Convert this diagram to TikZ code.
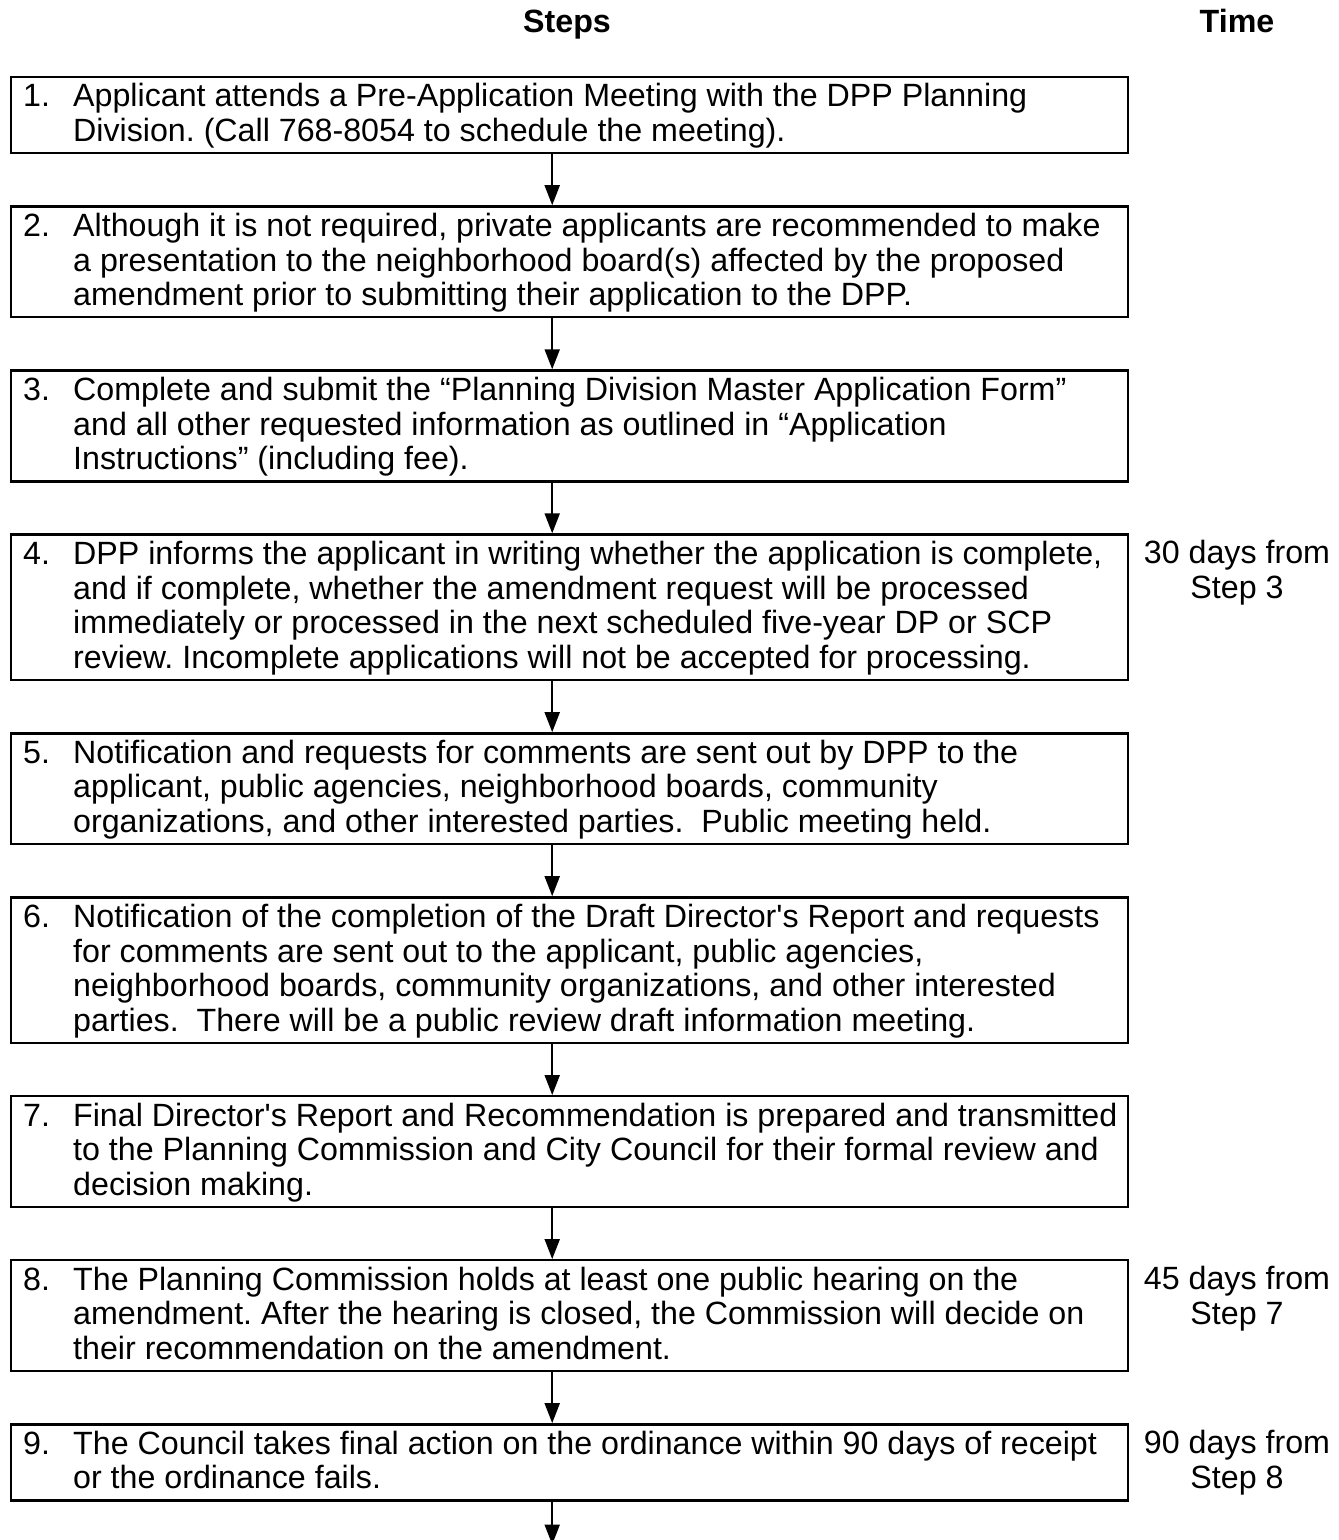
\documentclass[tikz,border=0pt]{standalone}
\usepackage{fontspec}
\setmainfont{Liberation Sans}[Ligatures=TeXOff]
\usepackage{tikz}
\usetikzlibrary{arrows.meta, positioning}
\frenchspacing
\newcommand{\steptext}[2]{\makebox[546.5pt][l]{\makebox[25pt][l]{#1.}\begin{tabular}[t]{@{}l@{}}\rule{0pt}{14.4pt}#2\end{tabular}}}
\newcommand{\timetext}[1]{\begin{tabular}[t]{@{}c@{}}\rule{0pt}{14.4pt}#1\end{tabular}}
\begin{document}
\begin{tikzpicture}[
    node distance=25.4pt,
    font=\fontsize{16.1}{17.4}\selectfont,
    box/.style={draw, line width=1.2pt, inner xsep=6pt, inner ysep=0.5pt, anchor=north},
    timelbl/.style={inner sep=0pt, inner ysep=0.5pt, anchor=north},
    head/.style={font=\fontsize{16.1}{17.4}\selectfont\bfseries, anchor=base},
    arr/.style={-{Triangle[width=7.5pt,length=10pt]}, line width=1pt}
  ]
  \useasboundingbox (0,0) rectangle (669pt,-770pt);
  \node[head] (steps) at (283.5pt,-16.5pt) {Steps};
  \node[head] (time) at (618.5pt,-16.5pt) {Time};
  \node[box, anchor=north west] (s1) at (5pt,-38pt) {\steptext{1}{Applicant attends a Pre-Application Meeting with the DPP Planning\\Division. (Call 768-8054 to schedule the meeting).}};
  \node[box, below=of s1] (s2) {\steptext{2}{Although it is not required, private applicants are recommended to make\\a presentation to the neighborhood board(s) affected by the proposed\\amendment prior to submitting their application to the DPP.}};
  \node[box, below=of s2] (s3) {\steptext{3}{Complete and submit the “Planning Division Master Application Form”\\and all other requested information as outlined in “Application\\Instructions” (including fee).}};
  \node[box, below=of s3] (s4) {\steptext{4}{DPP informs the applicant in writing whether the application is complete,\\and if complete, whether the amendment request will be processed\\immediately or processed in the next scheduled five-year DP or SCP\\review. Incomplete applications will not be accepted for processing.}};
  \node[box, below=of s4] (s5) {\steptext{5}{Notification and requests for comments are sent out by DPP to the\\applicant, public agencies, neighborhood boards, community\\organizations, and other interested parties.\ \ Public meeting held.}};
  \node[box, below=of s5] (s6) {\steptext{6}{Notification of the completion of the Draft Director's Report and requests\\for comments are sent out to the applicant, public agencies,\\neighborhood boards, community organizations, and other interested\\parties.\ \ There will be a public review draft information meeting.}};
  \node[box, below=of s6] (s7) {\steptext{7}{Final Director's Report and Recommendation is prepared and transmitted\\to the Planning Commission and City Council for their formal review and\\decision making.}};
  \node[box, below=of s7] (s8) {\steptext{8}{The Planning Commission holds at least one public hearing on the\\amendment. After the hearing is closed, the Commission will decide on\\their recommendation on the amendment.}};
  \node[box, below=of s8] (s9) {\steptext{9}{The Council takes final action on the ordinance within 90 days of receipt\\or the ordinance fails.}};
  \coordinate[below=21.5pt of s9] (out);
  % time column
  \node[timelbl] (t4) at (time |- s4.north) {\timetext{30 days from\\Step 3}};
  \node[timelbl] (t8) at (time |- s8.north) {\timetext{45 days from\\Step 7}};
  \node[timelbl] (t9) at (time |- s9.north) {\timetext{90 days from\\Step 8}};
  \draw[arr] ([xshift=-8.75pt]s1.south) -- ([xshift=-8.75pt]s2.north);
  \draw[arr] ([xshift=-8.75pt]s2.south) -- ([xshift=-8.75pt]s3.north);
  \draw[arr] ([xshift=-8.75pt]s3.south) -- ([xshift=-8.75pt]s4.north);
  \draw[arr] ([xshift=-8.75pt]s4.south) -- ([xshift=-8.75pt]s5.north);
  \draw[arr] ([xshift=-8.75pt]s5.south) -- ([xshift=-8.75pt]s6.north);
  \draw[arr] ([xshift=-8.75pt]s6.south) -- ([xshift=-8.75pt]s7.north);
  \draw[arr] ([xshift=-8.75pt]s7.south) -- ([xshift=-8.75pt]s8.north);
  \draw[arr] ([xshift=-8.75pt]s8.south) -- ([xshift=-8.75pt]s9.north);
  \draw[arr] ([xshift=-8.75pt]s9.south) -- ([xshift=-8.75pt]out);
\end{tikzpicture}
\end{document}
